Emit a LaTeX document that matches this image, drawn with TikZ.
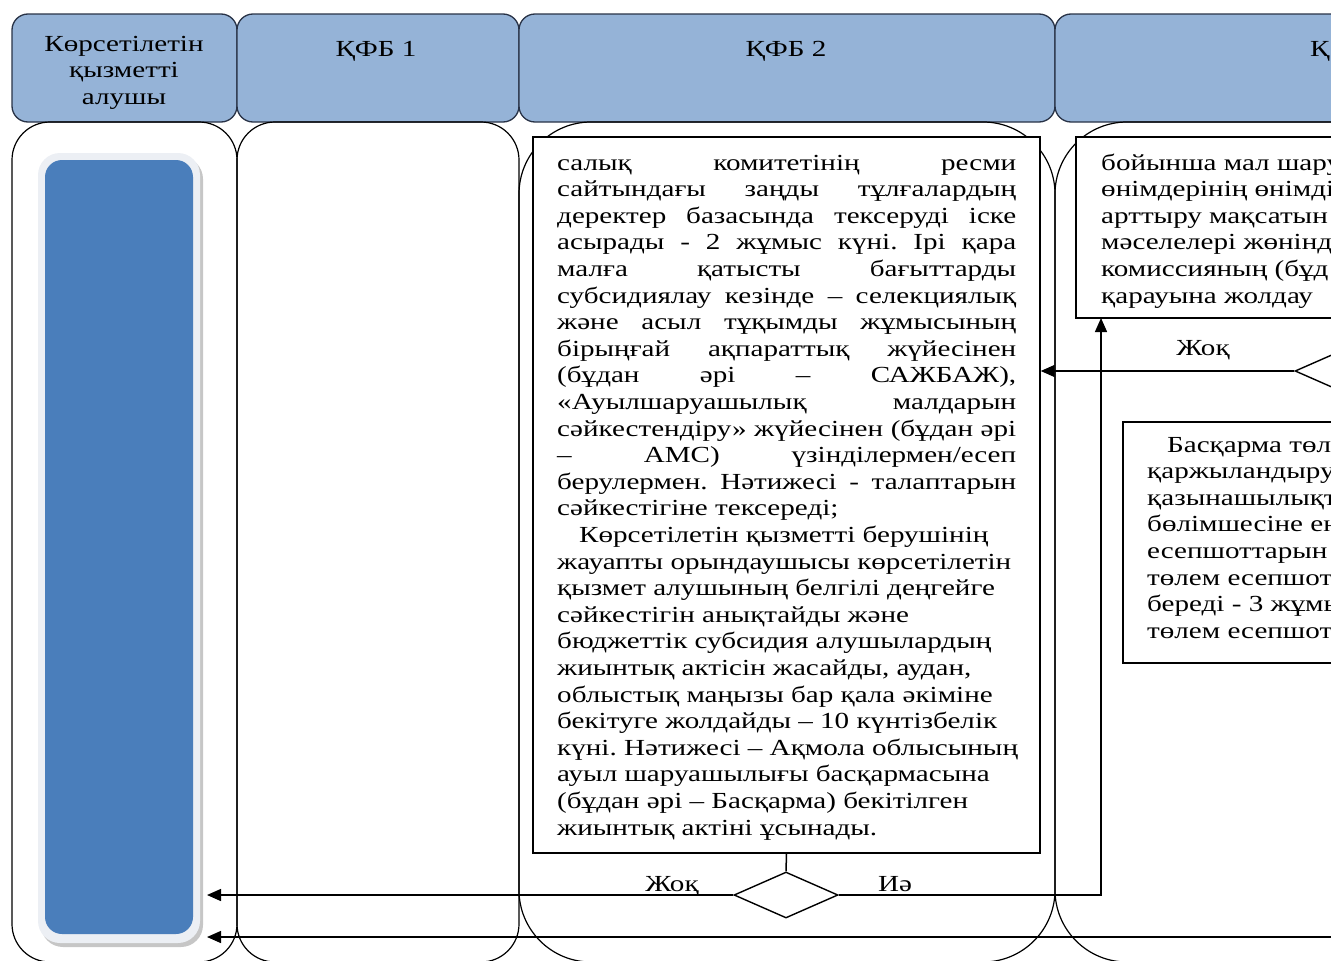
\documentclass[tikz,border=0pt]{standalone}
\usepackage{fontspec}
\setmainfont{Liberation Serif}[FakeStretch=1.265]
\usetikzlibrary{arrows.meta,shapes.geometric}
\definecolor{hdr}{RGB}{149,179,215}
\definecolor{hdrline}{RGB}{40,50,70}
\definecolor{recvblue}{RGB}{74,126,187}
\definecolor{recvrim}{RGB}{236,239,244}
\newcommand\JL[1]{\makebox[\linewidth][s]{#1}\par}
\newcommand\RL[1]{\mbox{#1}\par}
\frenchspacing
\begin{document}
\begin{tikzpicture}[x=1pt,y=-1pt,
  hdrbox/.style={draw=hdrline, line width=1.3pt, fill=hdr, rounded corners=16pt},
  lanebox/.style={draw=black, line width=1.2pt},
  txtbox/.style={draw=black, line width=1.4pt, fill=white, rectangle, inner sep=0pt},
  dia/.style={draw=black, line width=1.4pt, fill=white, diamond, minimum width=104pt, minimum height=46pt, inner sep=0pt},
  conn/.style={draw=black, line width=1.5pt},
  arr/.style={conn, -{Triangle[length=14pt,width=12pt]}},
  txt/.style={inner sep=0pt, anchor=base west, font=\fontsize{23}{26.6}\selectfont},
  lbl/.style={inner sep=0pt, anchor=base, font=\fontsize{23}{26.6}\selectfont}]
\useasboundingbox (0,0) rectangle (1331,961);
\clip (0,0) rectangle (1331,961);
% headers
\draw[hdrbox] (12,14) rectangle (237,122);
\draw[hdrbox] (237,14) rectangle (519,122);
\draw[hdrbox] (519,14) rectangle (1055,122);
\draw[hdrbox] (1055,14) rectangle (1700,122);
\node[lbl] (h1t) at (124,51) {\parbox[t]{220pt}{\centering\fontsize{23}{26.5}\selectfont Көрсетілетін\\қызметті\\алушы}};
\node[lbl] (h2t) at (376,56) {ҚФБ 1};
\node[lbl] (h3t) at (786,56) {ҚФБ 2};
\node[txt] (h4t) at (1310,56) {Қ};
% lane bodies
\draw[lanebox, rounded corners=38pt] (12,122) rectangle (237,962);
\draw[lanebox, rounded corners=38pt] (237,122) rectangle (519,962);
\draw[lanebox, rounded corners=72pt] (519,122) rectangle (1055,962);
\draw[lanebox, rounded corners=72pt] (1055,122) rectangle (1800,962);
% service receiver bar
\fill[gray!45, rounded corners=22pt] (41,157) rectangle (203,947);
\fill[recvrim, rounded corners=22pt] (38,153) rectangle (200,943);
\node[fill=recvblue, rounded corners=17pt, minimum width=148pt, minimum height=774pt, inner sep=0pt] (recv) at (119,547) {};
% boxes
\node[txtbox, minimum width=507pt, minimum height=716pt] (b1) at (786.5,495) {};
\node[txtbox, minimum width=424pt, minimum height=181pt] (b2) at (1288,227.5) {};
\node[txtbox, minimum width=377pt, minimum height=241pt] (b3) at (1311.5,542.5) {};
\node[txt] (t1) at (557,170) {\parbox[t]{459pt}{\parindent=0pt
\JL{салық комитетінің ресми}
\JL{сайтындағы заңды тұлғалардың}
\JL{деректер базасында тексеруді іске}
\JL{асырады - 2 жұмыс күні. Ірі қара}
\JL{малға қатысты бағыттарды}
\JL{субсидиялау кезінде – селекциялық}
\JL{және асыл тұқымды жұмысының}
\JL{бірыңғай ақпараттық жүйесінен}
\JL{(бұдан әрі – САЖБАЖ),}
\JL{«Ауылшаруашылық малдарын}
\JL{сәйкестендіру» жүйесінен (бұдан әрі}
\JL{– АМС) үзінділермен/есеп}
\JL{берулермен. Нәтижесі - талаптарын}
\RL{сәйкестігіне тексереді;}
\RL{\hspace*{22pt}Көрсетілетін қызметті берушінің}
\RL{жауапты орындаушысы көрсетілетін}
\RL{қызмет алушының белгілі деңгейге}
\RL{сәйкестігін анықтайды және}
\RL{бюджеттік субсидия алушылардың}
\RL{жиынтық актісін жасайды, аудан,}
\RL{облыстық маңызы бар қала әкіміне}
\RL{бекітуге жолдайды – 10 күнтізбелік}
\RL{күні. Нәтижесі – Ақмола облысының}
\RL{ауыл шаруашылығы басқармасына}
\RL{(бұдан әрі – Басқарма) бекітілген}
\RL{жиынтық актіні ұсынады.}}};
\node[txt] (t2) at (1101,170) {\parbox[t]{400pt}{\parindent=0pt
\RL{бойынша мал шару}
\RL{өнімдерінің өнімді}
\RL{арттыру мақсатын}
\RL{мәселелері жөнінд}
\RL{комиссияның (бұд}
\RL{қарауына жолдау}}};
\node[txt] (t3) at (1147,452) {\parbox[t]{400pt}{\parindent=0pt
\RL{\hspace*{20pt}Басқарма төл}
\RL{қаржыландыру}
\RL{қазынашылықт}
\RL{бөлімшесіне ен}
\RL{есепшоттарын}
\RL{төлем есепшот}
\RL{береді - 3 жұмы}
\RL{төлем есепшот}}};
% decisions
\node[dia] (d1) at (786,895) {};
\node[dia] (d2) at (1347,371) {};
% connectors
\coordinate (tipA) at (207,895);
\coordinate (upA) at (1101,318);
\coordinate (inB) at (1340,937);
\coordinate (tipB) at (207,937);
\draw[conn] (b1.south) -- (d1.north);
\draw[arr] (d1.west) -- (tipA);
\draw[arr] (d1.east) -| (upA);
\draw[arr] (d2.west) -- (d2.west -| b1.east);
\draw[arr] (inB) -- (tipB);
% labels
\node[lbl] (l1) at (672,891) {Жоқ};
\node[lbl] (l2) at (895,891) {Иә};
\node[lbl] (l3) at (1203,355) {Жоқ};
\end{tikzpicture}
\end{document}
